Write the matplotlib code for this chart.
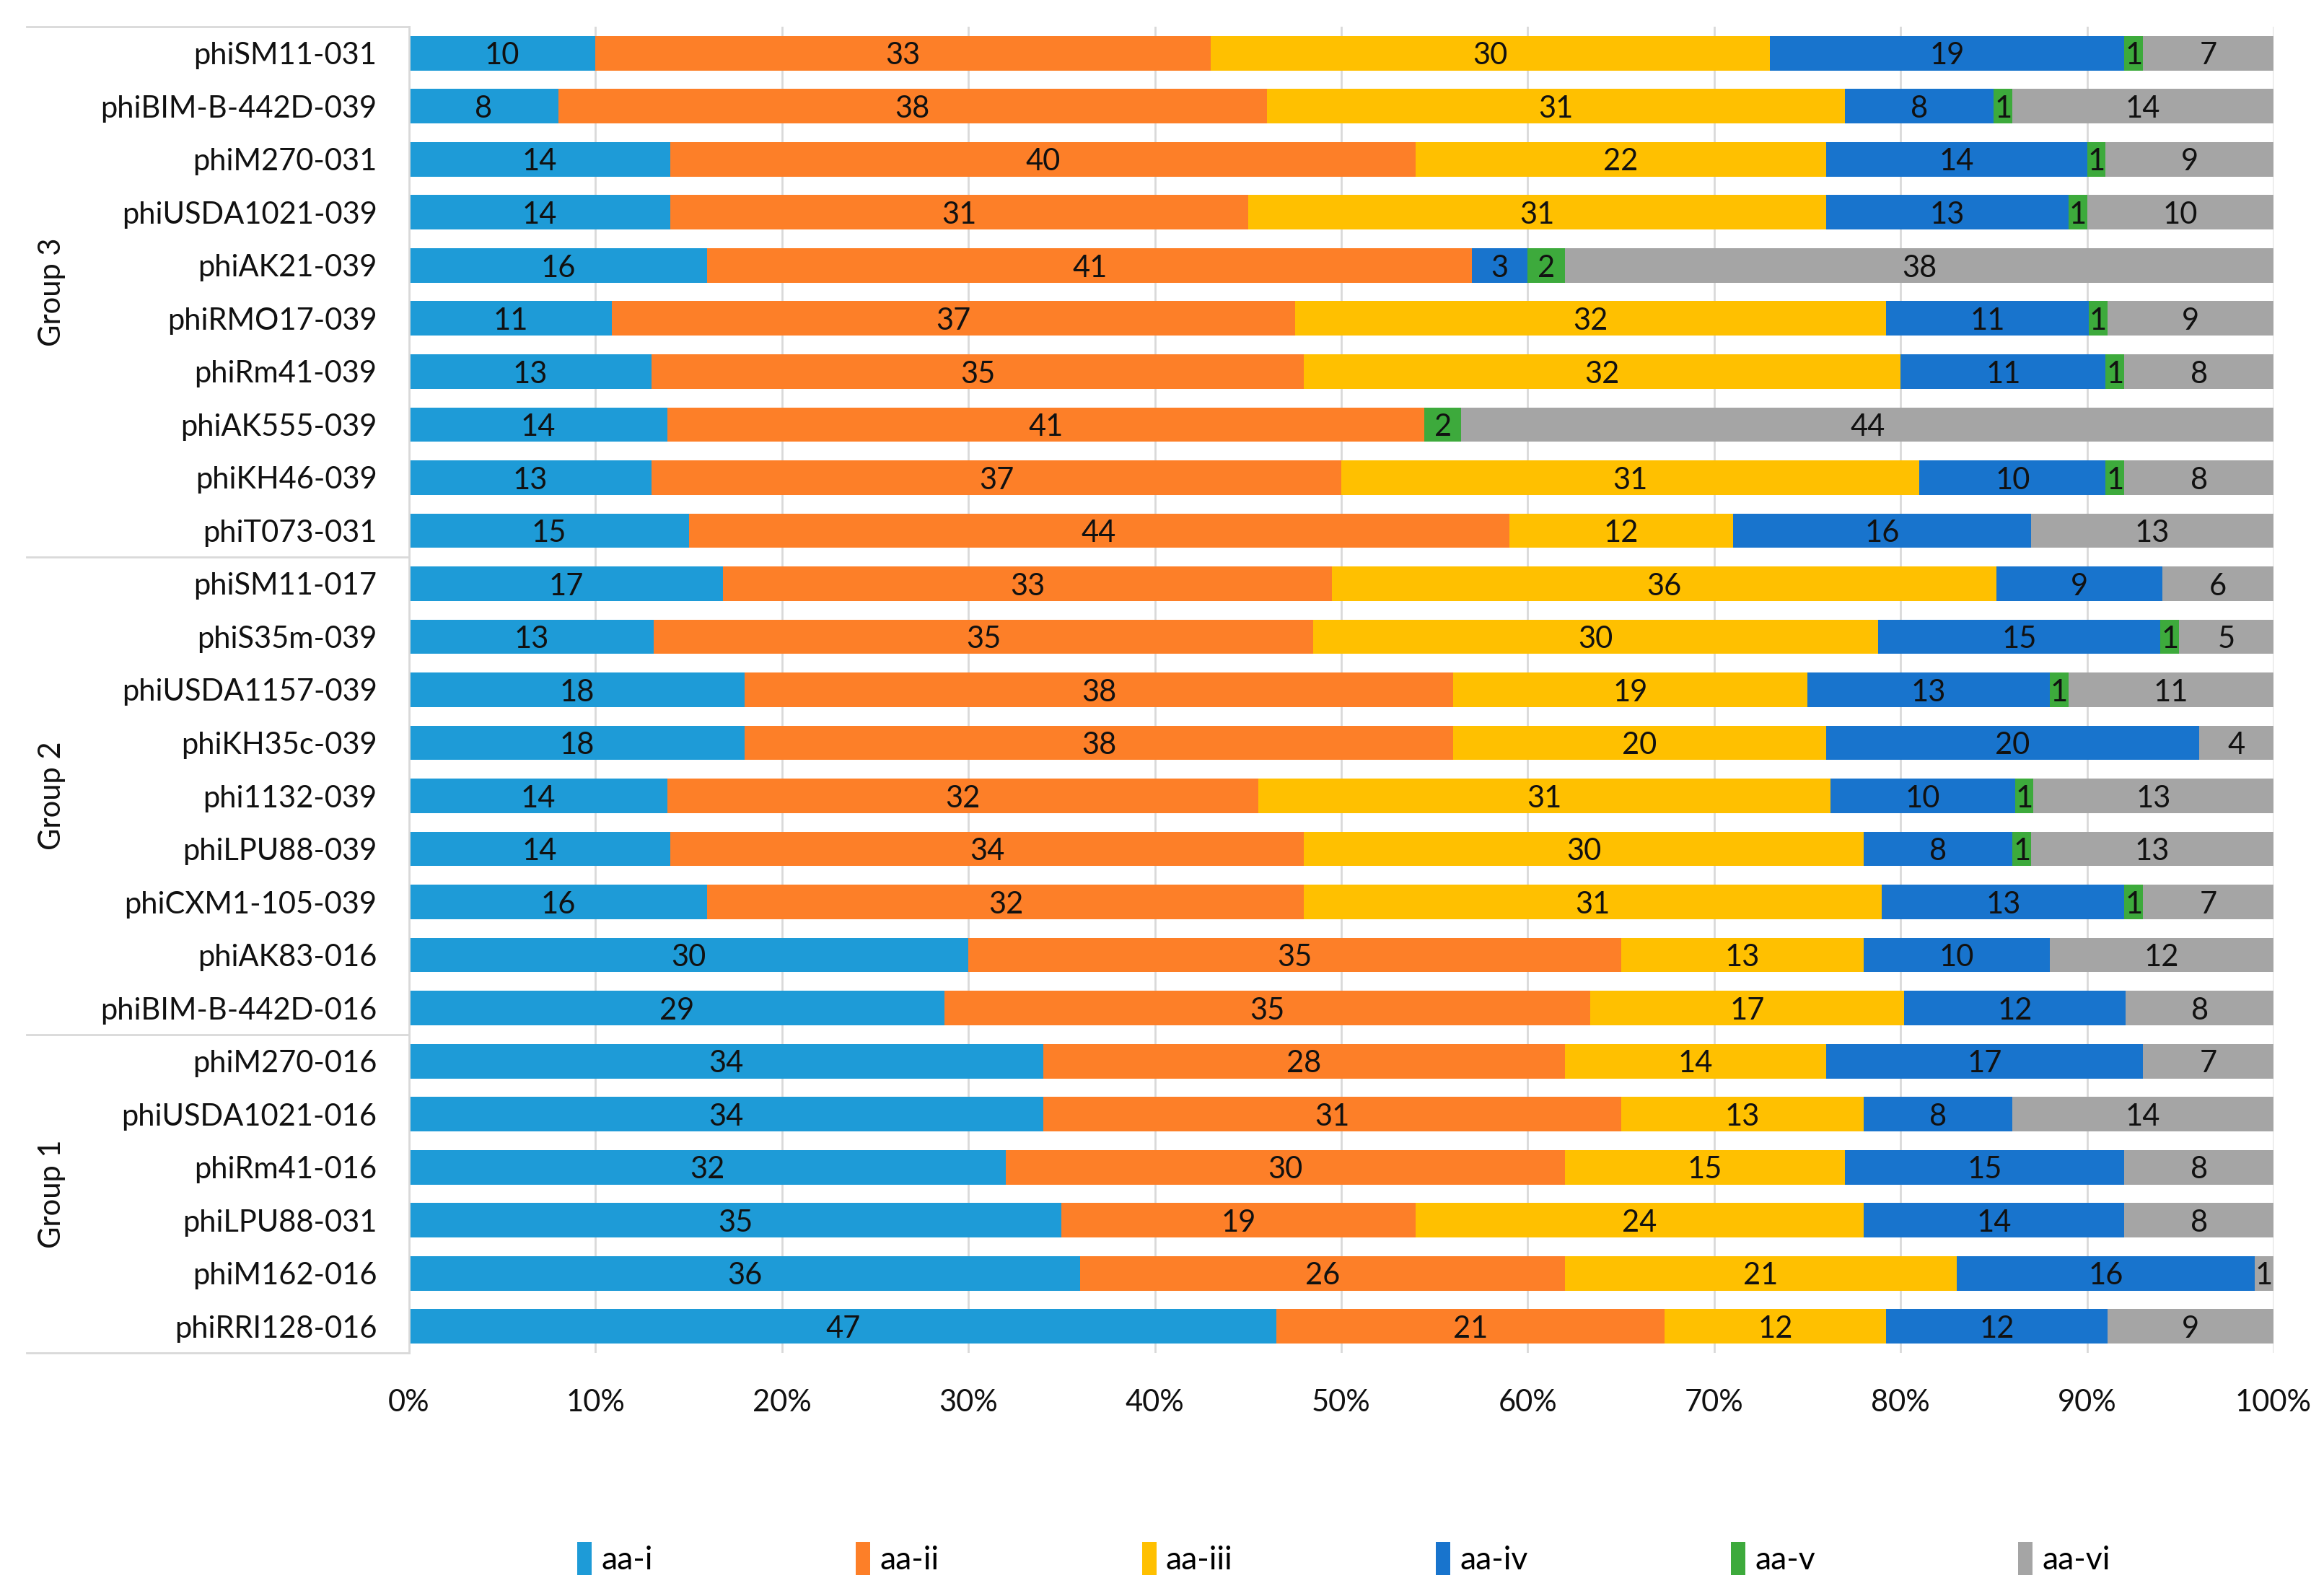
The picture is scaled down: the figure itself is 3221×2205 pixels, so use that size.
import matplotlib
matplotlib.use("Agg")
import matplotlib.pyplot as plt
import numpy as np
from matplotlib.patches import Patch
from matplotlib.ticker import FuncFormatter

plt.rcParams['font.family'] = ['Lato', 'DejaVu Sans']

categories = [
    "phiSM11-031", "phiBIM-B-442D-039", "phiM270-031", "phiUSDA1021-039",
    "phiAK21-039", "phiRMO17-039", "phiRm41-039", "phiAK555-039",
    "phiKH46-039", "phiT073-031",
    "phiSM11-017", "phiS35m-039", "phiUSDA1157-039", "phiKH35c-039",
    "phi1132-039", "phiLPU88-039", "phiCXM1-105-039", "phiAK83-016",
    "phiBIM-B-442D-016",
    "phiM270-016", "phiUSDA1021-016", "phiRm41-016", "phiLPU88-031",
    "phiM162-016", "phiRRI128-016",
]
aa_i   = [10, 8, 14, 14, 16, 11, 13, 14, 13, 15, 17, 13, 18, 18, 14, 14, 16, 30, 29, 34, 34, 32, 35, 36, 47]
aa_ii  = [33, 38, 40, 31, 41, 37, 35, 41, 37, 44, 33, 35, 38, 38, 32, 34, 32, 35, 35, 28, 31, 30, 19, 26, 21]
aa_iii = [30, 31, 22, 31, 0, 32, 32, 0, 31, 12, 36, 30, 19, 20, 31, 30, 31, 13, 17, 14, 13, 15, 24, 21, 12]
aa_iv  = [19, 8, 14, 13, 3, 11, 11, 0, 10, 16, 9, 15, 13, 20, 10, 8, 13, 10, 12, 17, 8, 15, 14, 16, 12]
aa_v   = [1, 1, 1, 1, 2, 1, 1, 2, 1, 0, 0, 1, 1, 0, 1, 1, 1, 0, 0, 0, 0, 0, 0, 0, 0]
aa_vi  = [7, 14, 9, 10, 38, 9, 8, 44, 8, 13, 6, 5, 11, 4, 13, 13, 7, 12, 8, 7, 14, 8, 8, 1, 9]
series_names = ["aa-i", "aa-ii", "aa-iii", "aa-iv", "aa-v", "aa-vi"]
groups = ["Group 3", "Group 2", "Group 1"]
group_sizes = [10, 9, 6]
colors = ["#1E9BD7", "#FD7F28", "#FFC000", "#1874CD", "#3DAA3C", "#A5A5A5"]

FS = 15
TXT = "#111111"
W, H, DPI = 3221, 2205, 200
fig = plt.figure(figsize=(W / DPI, H / DPI), dpi=DPI)
left_px, right_px, top_px, bot_px = 567, 3151, 37, 1875
ax = fig.add_axes([left_px / W, 1 - bot_px / H, (right_px - left_px) / W, (bot_px - top_px) / H])

data = np.array([aa_i, aa_ii, aa_iii, aa_iv, aa_v, aa_vi], dtype=float)
totals = data.sum(axis=0)
pct = data / totals * 100
y = np.arange(len(categories))
left = np.zeros(len(categories))
for k in range(len(series_names)):
    ax.barh(y, pct[k], left=left, height=0.65, color=colors[k], zorder=2,
            label=series_names[k])
    for i in range(len(categories)):
        v = data[k, i]
        if v > 0:
            ax.text(left[i] + pct[k, i] / 2, y[i] + 0.05, f"{int(v)}", ha="center",
                    va="center", fontsize=FS, color=TXT, zorder=3)
    left += pct[k]

ax.set_xlim(0, 100)
ax.set_ylim(len(categories) - 0.5, -0.5)
ax.set_yticks(y)
ax.set_yticklabels(categories, fontsize=FS, color=TXT)
ax.set_xticks(np.arange(0, 101, 10))
ax.xaxis.set_major_formatter(FuncFormatter(lambda v, p: f"{int(v)}%"))
ax.tick_params(axis="x", labelsize=FS, length=0, pad=18, labelcolor=TXT)
ax.tick_params(axis="y", length=0, pad=16)
ax.grid(axis="x", color="#D9D9D9", linewidth=1.0, zorder=0)
for s in ["top", "right", "bottom"]:
    ax.spines[s].set_visible(False)
ax.spines["left"].set_color("#D9D9D9")
ax.spines["left"].set_linewidth(1.0)

# group separators and labels
x0 = (37 - left_px) / (right_px - left_px)
bounds = [-0.5]
for g in group_sizes:
    bounds.append(bounds[-1] + g)
trans = ax.get_yaxis_transform()
for b in bounds:
    ax.plot([x0, 0], [b, b], color="#D9D9D9", linewidth=1.0, transform=trans,
            clip_on=False)
gx = (72 - left_px) / (right_px - left_px)
for gname, b0, b1 in zip(groups, bounds[:-1], bounds[1:]):
    ax.text(gx, (b0 + b1) / 2, gname, rotation=90, ha="center", va="center",
            fontsize=FS, color=TXT, transform=trans)

handles = [Patch(facecolor=c, edgecolor="none") for c in colors]
fig.legend(handles, series_names, loc="center", ncol=6, frameon=False,
           bbox_to_anchor=(800 / W, 1 - 2160 / H, (2925 - 800) / W, 0.0),
           mode="expand", fontsize=16, handlelength=0.45, handleheight=1.2,
           handletextpad=0.3, borderaxespad=0, borderpad=0)

fig.savefig("out.png", dpi=DPI)
